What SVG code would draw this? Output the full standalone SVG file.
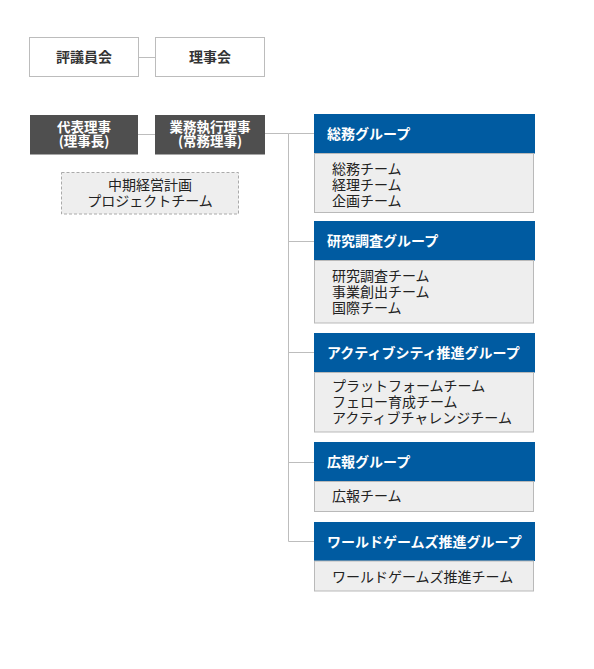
<svg xmlns="http://www.w3.org/2000/svg" width="594" height="669" viewBox="0 0 594 669">
<style>
text{font-family:"Noto Sans CJK JP","Noto Sans",sans-serif;font-size:14px}
.top{fill:#fff;stroke:#bcbcbc;stroke-width:1}
.toptx{fill:#333;font-weight:bold;text-anchor:middle}
.dark{fill:#4f4f4f}
.darktx{fill:#fff;font-weight:bold;text-anchor:middle;font-size:13.5px}
.plan{fill:#eeeeee;stroke:#aaaaaa;stroke-width:1;stroke-dasharray:3 2}
.plantx{fill:#222;text-anchor:middle}
.hd{fill:#005ba1}
.hdtx{fill:#fff;font-weight:bold}
.bd{fill:#eeeeee;stroke:#b9b9b9;stroke-width:1}
.bdtx{fill:#222}
.conn{fill:none;stroke:#bdbdbd;stroke-width:1}
</style>
<rect width="594" height="669" fill="#fff"/>
<g id="connectors">
<line class="conn" x1="138.5" y1="57.5" x2="155.5" y2="57.5"/>
<line class="conn" x1="138" y1="134.5" x2="155" y2="134.5"/>
<polyline class="conn" points="265,133.5 288.5,133.5 288.5,541.5 314,541.5"/>
<line class="conn" x1="288.5" y1="133.5" x2="314" y2="133.5"/>
<line class="conn" x1="288.5" y1="241.5" x2="314" y2="241.5"/>
<line class="conn" x1="288.5" y1="352.5" x2="314" y2="352.5"/>
<line class="conn" x1="288.5" y1="462.5" x2="314" y2="462.5"/>
</g>
<g id="hyogiinkai">
<rect class="top" x="29.5" y="37.5" width="109" height="39"/>
<text class="toptx" x="84" y="62">評議員会</text>
</g>
<g id="rijikai">
<rect class="top" x="155.5" y="37.5" width="109" height="39"/>
<text class="toptx" x="210" y="62">理事会</text>
</g>
<g id="daihyo">
<rect class="dark" x="30" y="115" width="108" height="39.5"/>
<text class="darktx" x="84" y="132">代表理事</text>
<text class="darktx" x="84" y="146">(理事長)</text>
</g>
<g id="gyomu">
<rect class="dark" x="155" y="115" width="110" height="39.5"/>
<text class="darktx" x="210" y="132">業務執行理事</text>
<text class="darktx" x="210" y="146">(常務理事)</text>
</g>
<g id="chuki">
<rect class="plan" x="61.5" y="172.5" width="177" height="41.5"/>
<text class="plantx" x="150" y="190">中期経営計画</text>
<text class="plantx" x="150" y="206">プロジェクトチーム</text>
</g>
<g id="somu">
<rect class="hd" x="314" y="114" width="221" height="39.5"/>
<text class="hdtx" x="327" y="139">総務グループ</text>
<rect class="bd" x="314.5" y="153.5" width="219" height="59"/>
<text class="bdtx" x="332" y="174">総務チーム</text>
<text class="bdtx" x="332" y="190">経理チーム</text>
<text class="bdtx" x="332" y="206">企画チーム</text>
</g>
<g id="kenkyu">
<rect class="hd" x="314" y="221" width="221" height="39.5"/>
<text class="hdtx" x="327" y="246">研究調査グループ</text>
<rect class="bd" x="314.5" y="260.5" width="219" height="62.5"/>
<text class="bdtx" x="332" y="280.5">研究調査チーム</text>
<text class="bdtx" x="332" y="296.5">事業創出チーム</text>
<text class="bdtx" x="332" y="312.5">国際チーム</text>
</g>
<g id="active">
<rect class="hd" x="314" y="333" width="221" height="39.5"/>
<text class="hdtx" x="327" y="358">アクティブシティ推進グループ</text>
<rect class="bd" x="314.5" y="372.5" width="219" height="59.5"/>
<text class="bdtx" x="332" y="391">プラットフォームチーム</text>
<text class="bdtx" x="332" y="407">フェロー育成チーム</text>
<text class="bdtx" x="332" y="423">アクティブチャレンジチーム</text>
</g>
<g id="koho">
<rect class="hd" x="314" y="442" width="221" height="39.5"/>
<text class="hdtx" x="327" y="467">広報グループ</text>
<rect class="bd" x="314.5" y="481.5" width="219" height="30"/>
<text class="bdtx" x="332" y="501.3">広報チーム</text>
</g>
<g id="worldgames">
<rect class="hd" x="314" y="522" width="221" height="39"/>
<text class="hdtx" x="327" y="546.8">ワールドゲームズ推進グループ</text>
<rect class="bd" x="314.5" y="561" width="219" height="30"/>
<text class="bdtx" x="332" y="581.8">ワールドゲームズ推進チーム</text>
</g>
</svg>
